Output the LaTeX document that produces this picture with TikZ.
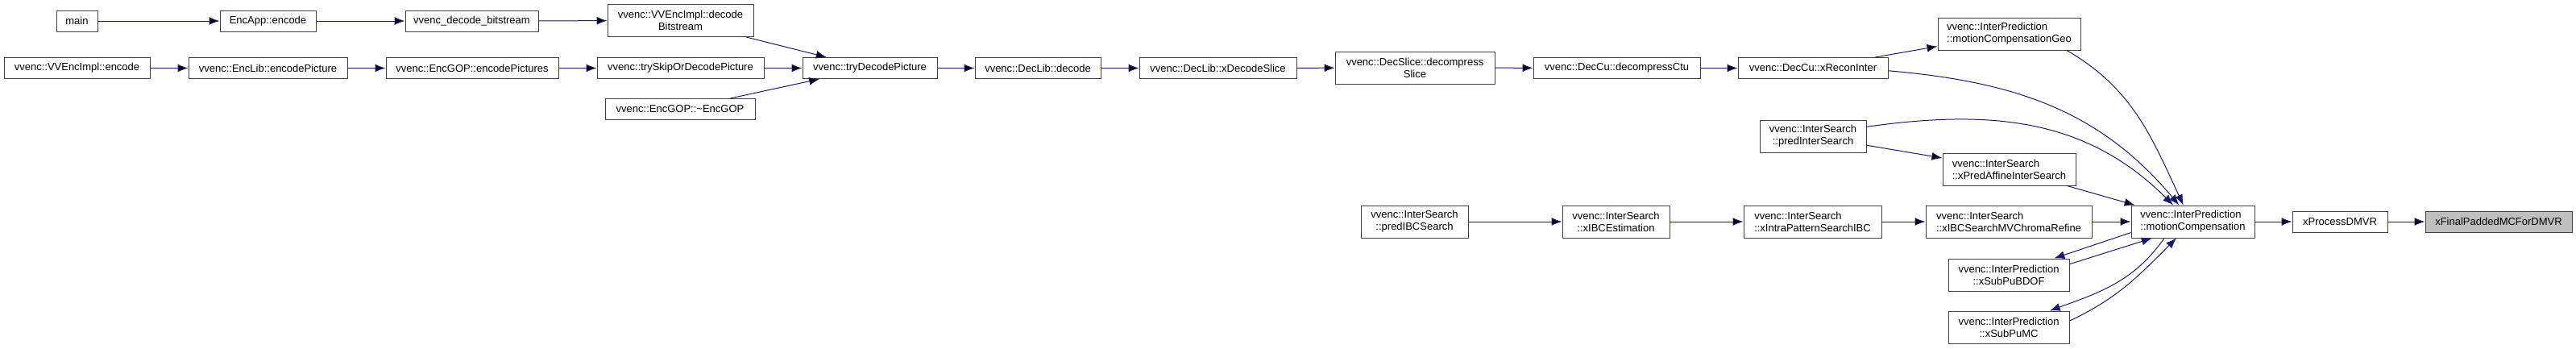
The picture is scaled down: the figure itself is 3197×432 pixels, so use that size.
\documentclass[tikz,border=0pt]{standalone}
\usepackage{fontspec}
\setmainfont{Liberation Sans}
\usetikzlibrary{arrows.meta}
\definecolor{edgeblue}{HTML}{191970}
\definecolor{boxline}{HTML}{404040}
\definecolor{hlfill}{HTML}{BFBFBF}

\begin{document}
\begin{tikzpicture}[x=1pt, y=1pt,
    fn/.style={draw=boxline, fill=white, line width=1pt, minimum height=26, inner sep=2pt, font=\fontsize{13}{15}\selectfont},
    fnc/.style={fn, minimum height=40, align=center},
    fnl/.style={fn, minimum height=40, align=left},
    call/.style={->, >={Latex[length=13pt,width=10pt]}, draw=edgeblue, line width=1pt}]
    \useasboundingbox (0,0) rectangle (3197,-432);

    \node[fn, minimum width=51] (0) at (95.5,-26) {main};
    \node[fn, minimum width=119] (1) at (332.5,-26) {EncApp::encode};
    \node[fn, minimum width=165] (2) at (585.5,-26) {vvenc\_decode\_bitstream};
    \node[fnc, minimum width=181] (3) at (844.5,-25.5) {vvenc::VVEncImpl::decode\\Bitstream};
    \node[fn, minimum width=181] (4) at (95.5,-84.5) {vvenc::VVEncImpl::encode};
    \node[fn, minimum width=197] (5) at (332.5,-84.5) {vvenc::EncLib::encodePicture};
    \node[fn, minimum width=214] (6) at (586,-84.5) {vvenc::EncGOP::encodePictures};
    \node[fn, minimum width=207] (7) at (844.5,-84.5) {vvenc::trySkipOrDecodePicture};
    \node[fn, minimum width=186] (8) at (844,-135.5) {vvenc::EncGOP::\textasciitilde EncGOP};
    \node[fn, minimum width=167] (9) at (1079.5,-84.5) {vvenc::tryDecodePicture};
    \node[fn, minimum width=156] (10) at (1288,-84.5) {vvenc::DecLib::decode};
    \node[fn, minimum width=195] (11) at (1511.5,-84.5) {vvenc::DecLib::xDecodeSlice};
    \node[fnc, minimum width=198] (12) at (1756,-84) {vvenc::DecSlice::decompress\\Slice};
    \node[fn, minimum width=207] (13) at (2006.5,-84.5) {vvenc::DecCu::decompressCtu};
    \node[fn, minimum width=186] (14) at (2250,-84.5) {vvenc::DecCu::xReconInter};
    \node[fnl, minimum width=177] (15) at (2493.5,-42) {vvenc::InterPrediction\\::motionCompensationGeo};
    \node[fnc, minimum width=132] (16) at (2250,-169) {vvenc::InterSearch\\::predInterSearch};
    \node[fnl, minimum width=165] (17) at (2493.5,-210) {vvenc::InterSearch\\::xPredAffineInterSearch};
    \node[fnc, minimum width=133] (18) at (1755.5,-275) {vvenc::InterSearch\\::predIBCSearch};
    \node[fnc, minimum width=133] (19) at (2005.5,-275) {vvenc::InterSearch\\::xIBCEstimation};
    \node[fnl, minimum width=171] (20) at (2249.5,-275) {vvenc::InterSearch\\::xIntraPatternSearchIBC};
    \node[fnl, minimum width=206] (21) at (2493,-275) {vvenc::InterSearch\\::xIBCSearchMVChromaRefine};
    \node[fnl, minimum width=153] (22) at (2721.5,-275) {vvenc::InterPrediction\\::motionCompensation};
    \node[fnc, minimum width=150] (23) at (2493,-341) {vvenc::InterPrediction\\::xSubPuBDOF};
    \node[fnc, minimum width=150] (24) at (2493,-406) {vvenc::InterPrediction\\::xSubPuMC};
    \node[fn, minimum width=118] (25) at (2904,-275) {xProcessDMVR};
    \node[fn, fill=hlfill, minimum width=182] (26) at (3101,-275) {xFinalPaddedMCForDMVR};

    \draw[call] (0) edge (1);
    \draw[call] (1) edge (2);
    \draw[call] (2) edge (3);
    \draw[call] (3) edge (9);
    \draw[call] (4) edge (5);
    \draw[call] (5) edge (6);
    \draw[call] (6) edge (7);
    \draw[call] (7) edge (9);
    \draw[call] (8) edge (9);
    \draw[call] (9) edge (10);
    \draw[call] (10) edge (11);
    \draw[call] (11) edge (12);
    \draw[call] (12) edge (13);
    \draw[call] (13) edge (14);
    \draw[call] (14) edge (15);
    \draw[call] (14.-2) to[out=-5, in=130] (22.130);
    \draw[call] (15.-16) to[out=-30, in=115] (22.120);
    \draw[call] (16.10) to[out=8, in=135] (22.140);
    \draw[call] (16) edge (17);
    \draw[call] (17) edge (22);
    \draw[call] (18) edge (19);
    \draw[call] (19) edge (20);
    \draw[call] (20) edge (21);
    \draw[call] (21) edge (22);
    \draw[call] (22.190) -- (23.20);
    \draw[call] (23.10) -- (22.202);
    \draw[call] (22.210) to[out=235, in=20] (24.22);
    \draw[call] (24.6) to[out=25, in=225] (22.225);
    \draw[call] (22) edge (25);
    \draw[call] (25) edge (26);
\end{tikzpicture}
\end{document}
